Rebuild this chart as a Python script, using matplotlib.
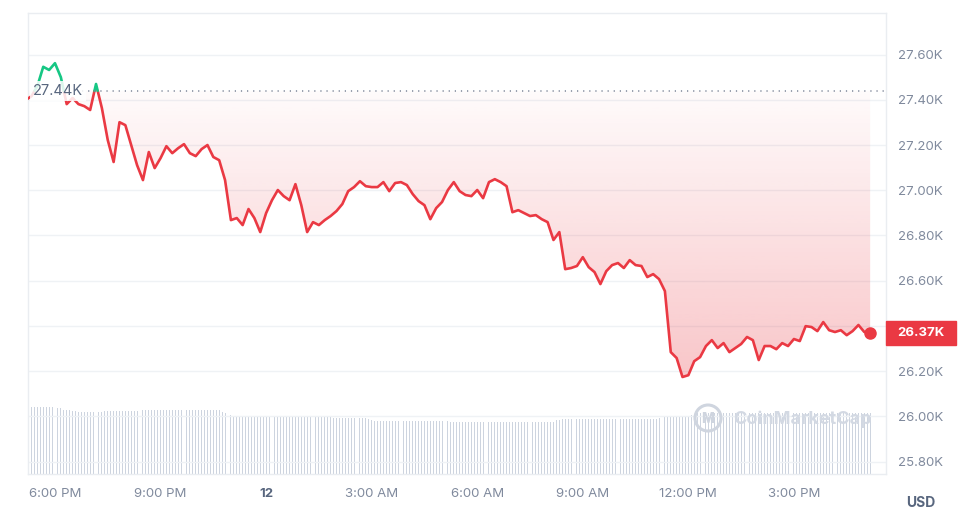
import numpy as np
import pandas as pd
import matplotlib
matplotlib.use("Agg")
import matplotlib.pyplot as plt
import matplotlib.dates as mdates
import matplotlib.transforms as mtransforms
from matplotlib.path import Path
from matplotlib.patches import Rectangle, Circle

plt.rcParams['font.family'] = ['Inter', 'DejaVu Sans']

RED = '#ea3943'
GREEN = '#16c784'
GRID = '#eff2f5'
TEXT = '#808a9d'
DARK = '#58667e'

# opening price of the 24h window (dotted reference line)
open_price = 27440

# BTC price, USD, every 10 minutes
price_start = '2023-05-11 17:10'
prices = [
    27399, 27416, 27461, 27546, 27532, 27562, 27500, 27381, 27408, 27381,
    27372, 27355, 27470, 27363, 27222, 27125, 27301, 27288, 27200, 27111,
    27045, 27169, 27098, 27142, 27195, 27164, 27186, 27204, 27164, 27151,
    27182, 27200, 27147, 27133, 27045, 26868, 26877, 26846, 26917, 26877,
    26815, 26899, 26956, 27001, 26974, 26956, 27027, 26934, 26815, 26859,
    26846, 26868, 26886, 26908, 26939, 26996, 27014, 27040, 27018, 27014,
    27014, 27036, 26996, 27032, 27036, 27023, 26983, 26952, 26934, 26872,
    26921, 26948, 27001, 27036, 26996, 26979, 26974, 27001, 26965, 27036,
    27049, 27036, 27018, 26903, 26912, 26899, 26886, 26890, 26872, 26859,
    26780, 26815, 26651, 26656, 26665, 26704, 26660, 26638, 26585, 26642,
    26669, 26678, 26656, 26691, 26669, 26665, 26616, 26629, 26607, 26554,
    26284, 26258, 26174, 26182, 26244, 26262, 26311, 26337, 26302, 26324,
    26284, 26302, 26320, 26351, 26337, 26249, 26311, 26311, 26297, 26324,
    26311, 26342, 26333, 26399, 26395, 26377, 26417, 26381, 26373, 26381,
    26359, 26377, 26404, 26373, 26370,
]

# 24h volume (billion USD), every 5 minutes
volume_start = '2023-05-11 17:15'
volume_b = [
    13.4, 13.4, 13.4, 13.4, 13.4, 13.4, 13.4, 13.4, 13.4, 13.3, 13.2, 13.2,
    12.9, 12.8, 12.8, 12.7, 12.6, 12.4, 12.4, 12.4, 12.4, 12.4, 12.4, 12.4,
    12.4, 12.5, 12.6, 12.6, 12.6, 12.6, 12.6, 12.6, 12.6, 12.6, 12.6, 12.6,
    12.6, 12.7, 12.8, 12.8, 12.8, 12.8, 12.8, 12.8, 12.8, 12.8, 12.8, 12.8,
    12.8, 12.8, 12.8, 12.8, 12.8, 12.8, 12.8, 12.8, 12.8, 12.8, 12.8, 12.8,
    12.8, 12.8, 12.8, 12.8, 12.8, 12.8, 12.5, 12.2, 12.1, 11.8, 11.5, 11.4,
    11.4, 11.4, 11.4, 11.4, 11.4, 11.4, 11.4, 11.4, 11.4, 11.4, 11.4, 11.4,
    11.4, 11.4, 11.4, 11.4, 11.4, 11.4, 11.4, 11.4, 11.4, 11.4, 11.4, 11.4,
    11.4, 11.4, 11.4, 11.4, 11.4, 11.4, 11.4, 11.4, 11.3, 11.2, 11.2, 11.2,
    11.2, 11.2, 11.2, 11.2, 11.2, 11.2, 11.2, 11.2, 11.0, 10.8, 10.7, 10.6,
    10.6, 10.6, 10.6, 10.6, 10.6, 10.6, 10.6, 10.6, 10.6, 10.6, 10.6, 10.6,
    10.6, 10.6, 10.6, 10.6, 10.6, 10.6, 10.6, 10.6, 10.6, 10.6, 10.6, 10.6,
    10.5, 10.5, 10.5, 10.5, 10.5, 10.5, 10.5, 10.5, 10.5, 10.5, 10.5, 10.5,
    10.5, 10.5, 10.5, 10.5, 10.5, 10.5, 10.5, 10.5, 10.5, 10.5, 10.5, 10.5,
    10.5, 10.5, 10.5, 10.5, 10.5, 10.5, 10.5, 10.5, 10.5, 10.5, 10.5, 10.5,
    10.8, 10.9, 11.0, 11.0, 11.0, 11.0, 11.0, 11.0, 11.0, 11.0, 11.0, 11.0,
    11.0, 11.0, 11.0, 11.0, 11.0, 11.0, 11.0, 11.0, 11.0, 11.0, 11.0, 11.0,
    11.0, 11.0, 11.0, 11.0, 11.0, 11.0, 11.0, 11.0, 11.0, 11.0, 11.0, 11.2,
    11.4, 11.4, 11.4, 11.4, 11.4, 11.4, 11.4, 11.4, 11.4, 11.6, 11.8, 12.0,
    12.2, 12.2, 12.2, 12.2, 12.2, 12.2, 12.2, 12.2, 12.2, 12.2, 12.2, 12.2,
    12.2, 12.2, 12.2, 12.2, 12.2, 12.2, 12.2, 12.2, 12.2, 12.2, 12.2, 12.2,
    12.2, 12.2, 12.2, 12.2, 12.2, 12.2, 12.2, 12.2, 12.2, 12.2, 12.2, 12.2,
    12.2, 12.2, 12.2, 12.2, 12.2, 12.2, 12.2, 12.2, 12.2, 12.2, 12.2, 12.2,
    12.2, 12.2, 12.2, 12.2, 12.2, 12.2, 12.2, 12.2, 12.2, 12.2, 12.2, 12.2,
]

tick_times = ['2023-05-11 18:00', '2023-05-11 21:00', '2023-05-12 00:00', '2023-05-12 03:00',
              '2023-05-12 06:00', '2023-05-12 09:00', '2023-05-12 12:00', '2023-05-12 15:00']
tick_labels = ['6:00 PM', '9:00 PM', '12', '3:00 AM', '6:00 AM', '9:00 AM', '12:00 PM', '3:00 PM']
y_ticks = [25800, 26000, 26200, 26400, 26600, 26800, 27000, 27200, 27400, 27600]

t = mdates.date2num(pd.date_range(price_start, periods=len(prices), freq='10min'))
tv = mdates.date2num(pd.date_range(volume_start, periods=len(volume_b), freq='5min'))
p = np.array(prices, dtype=float)

fig = plt.figure(figsize=(9.76, 5.22), dpi=100)
pos = [28 / 976, 48 / 522, 858 / 976, 461 / 522]
axv = fig.add_axes(pos)
ax = fig.add_axes(pos, sharex=axv)
ax.patch.set_visible(False)

# volume bars
axv.bar(tv, volume_b, width=1.6 / 1440, color='#cdd4df', linewidth=0)
axv.set_ylim(0, 92.2)
axv.set_yticks([])
for s in axv.spines.values():
    s.set_visible(False)
axv.tick_params(axis='x', length=0, labelbottom=False)

# split line at the open price: green above, red below
tt, pp = [t[0]], [p[0]]
for i in range(1, len(p)):
    a, b = p[i - 1] - open_price, p[i] - open_price
    if a * b < 0:
        f = a / (a - b)
        tt.append(t[i - 1] + f * (t[i] - t[i - 1]))
        pp.append(open_price)
    tt.append(t[i])
    pp.append(p[i])
tt, pp = np.array(tt), np.array(pp)

red = np.where(pp <= open_price, pp, np.nan)
green = np.where(pp >= open_price, pp, np.nan)
ax.plot(tt, red, color=RED, lw=1.9, solid_joinstyle='round', solid_capstyle='round', zorder=4)
ax.plot(tt, green, color=GREEN, lw=1.9, solid_joinstyle='round', solid_capstyle='round', zorder=4)

# gradient fill between the line and the open price
fb = ax.fill_between(tt, pp, open_price, where=pp <= open_price, interpolate=True,
                     facecolor='none', edgecolor='none')
clip = Path.make_compound_path(*fb.get_paths())
grad = np.zeros((256, 1, 4))
grad[..., :3] = matplotlib.colors.to_rgb(RED)
grad[:, 0, 3] = np.linspace(0.29, 0.02, 256)
img = ax.imshow(grad, aspect='auto', origin='lower', interpolation='bilinear',
                extent=[tt[0], tt[-1], p.min(), open_price], zorder=2)
img.set_clip_path(clip, transform=ax.transData)

# dotted open price line and its label
ax.axhline(open_price, xmin=(82 - 28) / 858, xmax=1, color='#7d8698', lw=1.1,
           ls=(0, (0.8, 3.2)), zorder=5)
trans = mtransforms.blended_transform_factory(ax.transAxes, ax.transData)
ax.text(5 / 858, open_price, f'{open_price / 1000:.2f}K', transform=trans,
        ha='left', va='center', fontsize=10.5, color=DARK, zorder=5,
        bbox=dict(boxstyle='square,pad=0.2', fc='white', ec='none', alpha=0.85))

# last price dot and tag
ax.plot(t[-1], p[-1], 'o', color=RED, ms=8, zorder=6, clip_on=False)
ax.add_patch(Rectangle((1.0, p[-1] - 53), 70 / 858, 106, transform=trans,
                       color=RED, clip_on=False, zorder=6))
ax.text(1.0 + 35 / 858, p[-1], f'{p[-1] / 1000:.2f}K', transform=trans, ha='center',
        va='center', color='white', fontsize=9.5, fontweight='bold', zorder=7)

# axes
ax.set_xlim(mdates.date2num(pd.Timestamp('2023-05-11 17:14')),
            mdates.date2num(pd.Timestamp('2023-05-12 17:37')))
ax.set_ylim(25745, 27784)
ax.set_yticks(y_ticks)
ax.set_yticklabels(['' if v == 26400 else f'{v / 1000:.2f}K' for v in y_ticks])
ax.yaxis.tick_right()
ax.tick_params(axis='y', length=0, pad=8.6, labelsize=9.5, labelcolor=TEXT)
ax.set_xticks(mdates.date2num(pd.to_datetime(tick_times)))
ax.set_xticklabels(tick_labels)
ax.tick_params(axis='x', length=0, pad=10, labelsize=9.5, labelcolor=TEXT)
for lbl in ax.get_xticklabels():
    if lbl.get_text() == '12':
        lbl.set_fontweight('bold')
        lbl.set_color(DARK)
ax.grid(axis='y', color=GRID, lw=1)
ax.set_axisbelow(True)
for s in ax.spines.values():
    s.set_color('#eaedf1')
    s.set_linewidth(1)

# watermark
fig.patches.append(Circle((7.08, (522 - 418) / 100), 0.13, transform=fig.dpi_scale_trans,
                          fill=False, ec='#cfd5df', lw=2.2))
fig.text(708 / 976, 1 - 419 / 522, 'M', ha='center', va='center', fontsize=10,
         fontweight='bold', color='#cfd5df')
fig.text(733 / 976, 1 - 419 / 522, 'CoinMarketCap', ha='left', va='center', fontsize=13,
         fontweight='bold', color='#d3d9e3')

fig.text(921 / 976, 1 - 503 / 522, 'USD', ha='center', va='center', fontsize=10,
         fontweight='bold', color=DARK)

fig.savefig('out.png', dpi=100, facecolor='white')
